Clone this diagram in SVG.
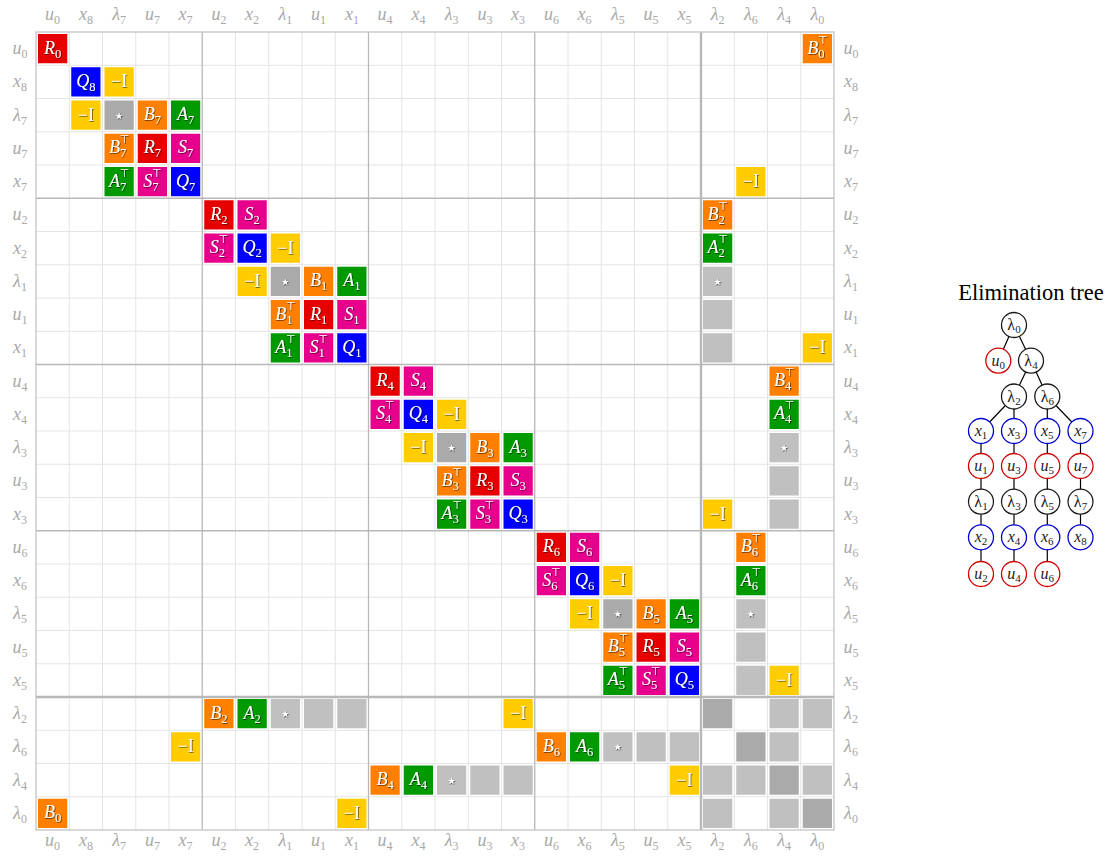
<svg xmlns="http://www.w3.org/2000/svg" width="1107" height="859" viewBox="0 0 1107 859">
<defs>
<filter id="sh" x="-30%" y="-30%" width="160%" height="160%"><feDropShadow dx="0.7" dy="0.7" stdDeviation="0.3" flood-color="#000" flood-opacity="0.75"/></filter>
<style>
.bg{fill:#fff}
.grid{stroke:#e4e4e4;stroke-width:1;fill:none}
.blk{stroke:#b8b8b8;stroke-width:1.3;fill:none}
.blk2{stroke:#b8b8b8;stroke-width:2.4;fill:none}
.bd{stroke:#c4c4c4;stroke-width:1.3;fill:none}
.lab{font-family:"Liberation Serif",serif;font-style:italic;font-size:18px;fill:#a8a8a8;text-anchor:middle}
.ls{font-size:12px;font-style:normal}
rect.c{stroke:none}
.r{fill:#e60000}.q{fill:#0000ff}.y{fill:#ffcc00}.o{fill:#ff8000}.g{fill:#009900}.m{fill:#e6008c}.k{fill:#aaaaaa}.l{fill:#c0c0c0}.d{fill:#aaaaaa}
.t{font-family:"Liberation Serif",serif;font-style:italic;font-size:18px;fill:#fff;text-anchor:middle;filter:url(#sh)}
.n{font-style:normal}
.sb{font-size:12.5px;font-style:normal}
.sp{font-size:11px;font-style:normal;font-family:"DejaVu Sans",sans-serif}
.st{font-family:"DejaVu Sans",sans-serif;font-size:9px;fill:#fff;text-anchor:middle;filter:url(#sh)}
.edge{stroke:#000;stroke-width:1.2}
.nd{fill:#fff;stroke-width:1.3}
.nk{stroke:#1a1a1a}.nr{stroke:#d00000}.nb{stroke:#0000d0}
.tl{font-family:"Liberation Serif",serif;font-size:16px;fill:#1a1a1a;text-anchor:middle}
.it{font-style:italic}
.ts{font-size:11px;font-style:normal}
.title{font-family:"Liberation Serif",serif;font-size:22.5px;fill:#000;text-anchor:middle}
</style>
</defs>
<rect class="bg" x="0" y="0" width="1107" height="859"/>

<g id="grid">
<path class="grid" d="M69.25 32V830M102.5 32V830M135.75 32V830M169 32V830M235.5 32V830M268.75 32V830M302 32V830M335.25 32V830M401.75 32V830M435 32V830M468.25 32V830M501.5 32V830M568 32V830M601.25 32V830M634.5 32V830M667.75 32V830M734.25 32V830M767.5 32V830M800.75 32V830M36 65.25H834M36 98.5H834M36 131.75H834M36 165H834M36 231.5H834M36 264.75H834M36 298H834M36 331.25H834M36 397.75H834M36 431H834M36 464.25H834M36 497.5H834M36 564H834M36 597.25H834M36 630.5H834M36 663.75H834M36 730.25H834M36 763.5H834M36 796.75H834"/>
<path class="blk" d="M202.25 32V830M368.5 32V830M534.75 32V830M36 198.25H834M36 364.5H834M36 530.75H834"/>
<path class="blk2" d="M701 32V830M36 697H834"/>
<rect class="bd" x="36" y="32" width="798" height="798"/>
</g>

<g id="col-labels-top" class="lab">
<text x="52.6" y="20">u<tspan class="ls" dy="4">0</tspan></text>
<text x="85.9" y="20">x<tspan class="ls" dy="4">8</tspan></text>
<text x="119.1" y="20">λ<tspan class="ls" dy="4">7</tspan></text>
<text x="152.4" y="20">u<tspan class="ls" dy="4">7</tspan></text>
<text x="185.6" y="20">x<tspan class="ls" dy="4">7</tspan></text>
<text x="218.9" y="20">u<tspan class="ls" dy="4">2</tspan></text>
<text x="252.1" y="20">x<tspan class="ls" dy="4">2</tspan></text>
<text x="285.4" y="20">λ<tspan class="ls" dy="4">1</tspan></text>
<text x="318.6" y="20">u<tspan class="ls" dy="4">1</tspan></text>
<text x="351.9" y="20">x<tspan class="ls" dy="4">1</tspan></text>
<text x="385.1" y="20">u<tspan class="ls" dy="4">4</tspan></text>
<text x="418.4" y="20">x<tspan class="ls" dy="4">4</tspan></text>
<text x="451.6" y="20">λ<tspan class="ls" dy="4">3</tspan></text>
<text x="484.9" y="20">u<tspan class="ls" dy="4">3</tspan></text>
<text x="518.1" y="20">x<tspan class="ls" dy="4">3</tspan></text>
<text x="551.4" y="20">u<tspan class="ls" dy="4">6</tspan></text>
<text x="584.6" y="20">x<tspan class="ls" dy="4">6</tspan></text>
<text x="617.9" y="20">λ<tspan class="ls" dy="4">5</tspan></text>
<text x="651.1" y="20">u<tspan class="ls" dy="4">5</tspan></text>
<text x="684.4" y="20">x<tspan class="ls" dy="4">5</tspan></text>
<text x="717.6" y="20">λ<tspan class="ls" dy="4">2</tspan></text>
<text x="750.9" y="20">λ<tspan class="ls" dy="4">6</tspan></text>
<text x="784.1" y="20">λ<tspan class="ls" dy="4">4</tspan></text>
<text x="817.4" y="20">λ<tspan class="ls" dy="4">0</tspan></text>
</g>
<g id="col-labels-bottom" class="lab">
<text x="52.6" y="846">u<tspan class="ls" dy="4">0</tspan></text>
<text x="85.9" y="846">x<tspan class="ls" dy="4">8</tspan></text>
<text x="119.1" y="846">λ<tspan class="ls" dy="4">7</tspan></text>
<text x="152.4" y="846">u<tspan class="ls" dy="4">7</tspan></text>
<text x="185.6" y="846">x<tspan class="ls" dy="4">7</tspan></text>
<text x="218.9" y="846">u<tspan class="ls" dy="4">2</tspan></text>
<text x="252.1" y="846">x<tspan class="ls" dy="4">2</tspan></text>
<text x="285.4" y="846">λ<tspan class="ls" dy="4">1</tspan></text>
<text x="318.6" y="846">u<tspan class="ls" dy="4">1</tspan></text>
<text x="351.9" y="846">x<tspan class="ls" dy="4">1</tspan></text>
<text x="385.1" y="846">u<tspan class="ls" dy="4">4</tspan></text>
<text x="418.4" y="846">x<tspan class="ls" dy="4">4</tspan></text>
<text x="451.6" y="846">λ<tspan class="ls" dy="4">3</tspan></text>
<text x="484.9" y="846">u<tspan class="ls" dy="4">3</tspan></text>
<text x="518.1" y="846">x<tspan class="ls" dy="4">3</tspan></text>
<text x="551.4" y="846">u<tspan class="ls" dy="4">6</tspan></text>
<text x="584.6" y="846">x<tspan class="ls" dy="4">6</tspan></text>
<text x="617.9" y="846">λ<tspan class="ls" dy="4">5</tspan></text>
<text x="651.1" y="846">u<tspan class="ls" dy="4">5</tspan></text>
<text x="684.4" y="846">x<tspan class="ls" dy="4">5</tspan></text>
<text x="717.6" y="846">λ<tspan class="ls" dy="4">2</tspan></text>
<text x="750.9" y="846">λ<tspan class="ls" dy="4">6</tspan></text>
<text x="784.1" y="846">λ<tspan class="ls" dy="4">4</tspan></text>
<text x="817.4" y="846">λ<tspan class="ls" dy="4">0</tspan></text>
</g>
<g id="row-labels-left" class="lab">
<text x="20" y="54.1">u<tspan class="ls" dy="4">0</tspan></text>
<text x="20" y="87.4">x<tspan class="ls" dy="4">8</tspan></text>
<text x="20" y="120.6">λ<tspan class="ls" dy="4">7</tspan></text>
<text x="20" y="153.9">u<tspan class="ls" dy="4">7</tspan></text>
<text x="20" y="187.1">x<tspan class="ls" dy="4">7</tspan></text>
<text x="20" y="220.4">u<tspan class="ls" dy="4">2</tspan></text>
<text x="20" y="253.6">x<tspan class="ls" dy="4">2</tspan></text>
<text x="20" y="286.9">λ<tspan class="ls" dy="4">1</tspan></text>
<text x="20" y="320.1">u<tspan class="ls" dy="4">1</tspan></text>
<text x="20" y="353.4">x<tspan class="ls" dy="4">1</tspan></text>
<text x="20" y="386.6">u<tspan class="ls" dy="4">4</tspan></text>
<text x="20" y="419.9">x<tspan class="ls" dy="4">4</tspan></text>
<text x="20" y="453.1">λ<tspan class="ls" dy="4">3</tspan></text>
<text x="20" y="486.4">u<tspan class="ls" dy="4">3</tspan></text>
<text x="20" y="519.6">x<tspan class="ls" dy="4">3</tspan></text>
<text x="20" y="552.9">u<tspan class="ls" dy="4">6</tspan></text>
<text x="20" y="586.1">x<tspan class="ls" dy="4">6</tspan></text>
<text x="20" y="619.4">λ<tspan class="ls" dy="4">5</tspan></text>
<text x="20" y="652.6">u<tspan class="ls" dy="4">5</tspan></text>
<text x="20" y="685.9">x<tspan class="ls" dy="4">5</tspan></text>
<text x="20" y="719.1">λ<tspan class="ls" dy="4">2</tspan></text>
<text x="20" y="752.4">λ<tspan class="ls" dy="4">6</tspan></text>
<text x="20" y="785.6">λ<tspan class="ls" dy="4">4</tspan></text>
<text x="20" y="818.9">λ<tspan class="ls" dy="4">0</tspan></text>
</g>
<g id="row-labels-right" class="lab">
<text x="851" y="54.1">u<tspan class="ls" dy="4">0</tspan></text>
<text x="851" y="87.4">x<tspan class="ls" dy="4">8</tspan></text>
<text x="851" y="120.6">λ<tspan class="ls" dy="4">7</tspan></text>
<text x="851" y="153.9">u<tspan class="ls" dy="4">7</tspan></text>
<text x="851" y="187.1">x<tspan class="ls" dy="4">7</tspan></text>
<text x="851" y="220.4">u<tspan class="ls" dy="4">2</tspan></text>
<text x="851" y="253.6">x<tspan class="ls" dy="4">2</tspan></text>
<text x="851" y="286.9">λ<tspan class="ls" dy="4">1</tspan></text>
<text x="851" y="320.1">u<tspan class="ls" dy="4">1</tspan></text>
<text x="851" y="353.4">x<tspan class="ls" dy="4">1</tspan></text>
<text x="851" y="386.6">u<tspan class="ls" dy="4">4</tspan></text>
<text x="851" y="419.9">x<tspan class="ls" dy="4">4</tspan></text>
<text x="851" y="453.1">λ<tspan class="ls" dy="4">3</tspan></text>
<text x="851" y="486.4">u<tspan class="ls" dy="4">3</tspan></text>
<text x="851" y="519.6">x<tspan class="ls" dy="4">3</tspan></text>
<text x="851" y="552.9">u<tspan class="ls" dy="4">6</tspan></text>
<text x="851" y="586.1">x<tspan class="ls" dy="4">6</tspan></text>
<text x="851" y="619.4">λ<tspan class="ls" dy="4">5</tspan></text>
<text x="851" y="652.6">u<tspan class="ls" dy="4">5</tspan></text>
<text x="851" y="685.9">x<tspan class="ls" dy="4">5</tspan></text>
<text x="851" y="719.1">λ<tspan class="ls" dy="4">2</tspan></text>
<text x="851" y="752.4">λ<tspan class="ls" dy="4">6</tspan></text>
<text x="851" y="785.6">λ<tspan class="ls" dy="4">4</tspan></text>
<text x="851" y="818.9">λ<tspan class="ls" dy="4">0</tspan></text>
</g>

<g id="cells">
<!-- row 0 -->
<g transform="translate(36,32)"><rect class="c r" x="2" y="2" width="29.25" height="29.25"/><text class="t" x="16.6" y="21.5">R<tspan class="sb" dy="4">0</tspan></text></g>
<g transform="translate(800.75,32)"><rect class="c o" x="2" y="2" width="29.25" height="29.25"/><text class="t" x="16.6" y="21.5">B<tspan class="sb" dy="4">0</tspan><tspan class="sp" dx="-6.5" dy="-14">⊤</tspan></text></g>
<!-- row 1 -->
<g transform="translate(69.25,65.25)"><rect class="c q" x="2" y="2" width="29.25" height="29.25"/><text class="t" x="16.6" y="21.5">Q<tspan class="sb" dy="4">8</tspan></text></g>
<g transform="translate(102.5,65.25)"><rect class="c y" x="2" y="2" width="29.25" height="29.25"/><text class="t n" x="16.6" y="22">−I</text></g>
<!-- row 2 -->
<g transform="translate(69.25,98.5)"><rect class="c y" x="2" y="2" width="29.25" height="29.25"/><text class="t n" x="16.6" y="22">−I</text></g>
<g transform="translate(102.5,98.5)"><rect class="c k" x="2" y="2" width="29.25" height="29.25"/><text class="st" x="16.6" y="20">★</text></g>
<g transform="translate(135.75,98.5)"><rect class="c o" x="2" y="2" width="29.25" height="29.25"/><text class="t" x="16.6" y="21.5">B<tspan class="sb" dy="4">7</tspan></text></g>
<g transform="translate(169,98.5)"><rect class="c g" x="2" y="2" width="29.25" height="29.25"/><text class="t" x="16.6" y="21.5">A<tspan class="sb" dy="4">7</tspan></text></g>
<!-- row 3 -->
<g transform="translate(102.5,131.75)"><rect class="c o" x="2" y="2" width="29.25" height="29.25"/><text class="t" x="16.6" y="21.5">B<tspan class="sb" dy="4">7</tspan><tspan class="sp" dx="-6.5" dy="-14">⊤</tspan></text></g>
<g transform="translate(135.75,131.75)"><rect class="c r" x="2" y="2" width="29.25" height="29.25"/><text class="t" x="16.6" y="21.5">R<tspan class="sb" dy="4">7</tspan></text></g>
<g transform="translate(169,131.75)"><rect class="c m" x="2" y="2" width="29.25" height="29.25"/><text class="t" x="16.6" y="21.5">S<tspan class="sb" dy="4">7</tspan></text></g>
<!-- row 4 -->
<g transform="translate(102.5,165)"><rect class="c g" x="2" y="2" width="29.25" height="29.25"/><text class="t" x="16.6" y="21.5">A<tspan class="sb" dy="4">7</tspan><tspan class="sp" dx="-6.5" dy="-14">⊤</tspan></text></g>
<g transform="translate(135.75,165)"><rect class="c m" x="2" y="2" width="29.25" height="29.25"/><text class="t" x="16.6" y="21.5">S<tspan class="sb" dy="4">7</tspan><tspan class="sp" dx="-6.5" dy="-14">⊤</tspan></text></g>
<g transform="translate(169,165)"><rect class="c q" x="2" y="2" width="29.25" height="29.25"/><text class="t" x="16.6" y="21.5">Q<tspan class="sb" dy="4">7</tspan></text></g>
<g transform="translate(734.25,165)"><rect class="c y" x="2" y="2" width="29.25" height="29.25"/><text class="t n" x="16.6" y="22">−I</text></g>
<!-- row 5 -->
<g transform="translate(202.25,198.25)"><rect class="c r" x="2" y="2" width="29.25" height="29.25"/><text class="t" x="16.6" y="21.5">R<tspan class="sb" dy="4">2</tspan></text></g>
<g transform="translate(235.5,198.25)"><rect class="c m" x="2" y="2" width="29.25" height="29.25"/><text class="t" x="16.6" y="21.5">S<tspan class="sb" dy="4">2</tspan></text></g>
<g transform="translate(701,198.25)"><rect class="c o" x="2" y="2" width="29.25" height="29.25"/><text class="t" x="16.6" y="21.5">B<tspan class="sb" dy="4">2</tspan><tspan class="sp" dx="-6.5" dy="-14">⊤</tspan></text></g>
<!-- row 6 -->
<g transform="translate(202.25,231.5)"><rect class="c m" x="2" y="2" width="29.25" height="29.25"/><text class="t" x="16.6" y="21.5">S<tspan class="sb" dy="4">2</tspan><tspan class="sp" dx="-6.5" dy="-14">⊤</tspan></text></g>
<g transform="translate(235.5,231.5)"><rect class="c q" x="2" y="2" width="29.25" height="29.25"/><text class="t" x="16.6" y="21.5">Q<tspan class="sb" dy="4">2</tspan></text></g>
<g transform="translate(268.75,231.5)"><rect class="c y" x="2" y="2" width="29.25" height="29.25"/><text class="t n" x="16.6" y="22">−I</text></g>
<g transform="translate(701,231.5)"><rect class="c g" x="2" y="2" width="29.25" height="29.25"/><text class="t" x="16.6" y="21.5">A<tspan class="sb" dy="4">2</tspan><tspan class="sp" dx="-6.5" dy="-14">⊤</tspan></text></g>
<!-- row 7 -->
<g transform="translate(235.5,264.75)"><rect class="c y" x="2" y="2" width="29.25" height="29.25"/><text class="t n" x="16.6" y="22">−I</text></g>
<g transform="translate(268.75,264.75)"><rect class="c k" x="2" y="2" width="29.25" height="29.25"/><text class="st" x="16.6" y="20">★</text></g>
<g transform="translate(302,264.75)"><rect class="c o" x="2" y="2" width="29.25" height="29.25"/><text class="t" x="16.6" y="21.5">B<tspan class="sb" dy="4">1</tspan></text></g>
<g transform="translate(335.25,264.75)"><rect class="c g" x="2" y="2" width="29.25" height="29.25"/><text class="t" x="16.6" y="21.5">A<tspan class="sb" dy="4">1</tspan></text></g>
<g transform="translate(701,264.75)"><rect class="c l" x="2" y="2" width="29.25" height="29.25"/><text class="st" x="16.6" y="20">★</text></g>
<!-- row 8 -->
<g transform="translate(268.75,298)"><rect class="c o" x="2" y="2" width="29.25" height="29.25"/><text class="t" x="16.6" y="21.5">B<tspan class="sb" dy="4">1</tspan><tspan class="sp" dx="-6.5" dy="-14">⊤</tspan></text></g>
<g transform="translate(302,298)"><rect class="c r" x="2" y="2" width="29.25" height="29.25"/><text class="t" x="16.6" y="21.5">R<tspan class="sb" dy="4">1</tspan></text></g>
<g transform="translate(335.25,298)"><rect class="c m" x="2" y="2" width="29.25" height="29.25"/><text class="t" x="16.6" y="21.5">S<tspan class="sb" dy="4">1</tspan></text></g>
<g transform="translate(701,298)"><rect class="c l" x="2" y="2" width="29.25" height="29.25"/></g>
<!-- row 9 -->
<g transform="translate(268.75,331.25)"><rect class="c g" x="2" y="2" width="29.25" height="29.25"/><text class="t" x="16.6" y="21.5">A<tspan class="sb" dy="4">1</tspan><tspan class="sp" dx="-6.5" dy="-14">⊤</tspan></text></g>
<g transform="translate(302,331.25)"><rect class="c m" x="2" y="2" width="29.25" height="29.25"/><text class="t" x="16.6" y="21.5">S<tspan class="sb" dy="4">1</tspan><tspan class="sp" dx="-6.5" dy="-14">⊤</tspan></text></g>
<g transform="translate(335.25,331.25)"><rect class="c q" x="2" y="2" width="29.25" height="29.25"/><text class="t" x="16.6" y="21.5">Q<tspan class="sb" dy="4">1</tspan></text></g>
<g transform="translate(701,331.25)"><rect class="c l" x="2" y="2" width="29.25" height="29.25"/></g>
<g transform="translate(800.75,331.25)"><rect class="c y" x="2" y="2" width="29.25" height="29.25"/><text class="t n" x="16.6" y="22">−I</text></g>
<!-- row 10 -->
<g transform="translate(368.5,364.5)"><rect class="c r" x="2" y="2" width="29.25" height="29.25"/><text class="t" x="16.6" y="21.5">R<tspan class="sb" dy="4">4</tspan></text></g>
<g transform="translate(401.75,364.5)"><rect class="c m" x="2" y="2" width="29.25" height="29.25"/><text class="t" x="16.6" y="21.5">S<tspan class="sb" dy="4">4</tspan></text></g>
<g transform="translate(767.5,364.5)"><rect class="c o" x="2" y="2" width="29.25" height="29.25"/><text class="t" x="16.6" y="21.5">B<tspan class="sb" dy="4">4</tspan><tspan class="sp" dx="-6.5" dy="-14">⊤</tspan></text></g>
<!-- row 11 -->
<g transform="translate(368.5,397.75)"><rect class="c m" x="2" y="2" width="29.25" height="29.25"/><text class="t" x="16.6" y="21.5">S<tspan class="sb" dy="4">4</tspan><tspan class="sp" dx="-6.5" dy="-14">⊤</tspan></text></g>
<g transform="translate(401.75,397.75)"><rect class="c q" x="2" y="2" width="29.25" height="29.25"/><text class="t" x="16.6" y="21.5">Q<tspan class="sb" dy="4">4</tspan></text></g>
<g transform="translate(435,397.75)"><rect class="c y" x="2" y="2" width="29.25" height="29.25"/><text class="t n" x="16.6" y="22">−I</text></g>
<g transform="translate(767.5,397.75)"><rect class="c g" x="2" y="2" width="29.25" height="29.25"/><text class="t" x="16.6" y="21.5">A<tspan class="sb" dy="4">4</tspan><tspan class="sp" dx="-6.5" dy="-14">⊤</tspan></text></g>
<!-- row 12 -->
<g transform="translate(401.75,431)"><rect class="c y" x="2" y="2" width="29.25" height="29.25"/><text class="t n" x="16.6" y="22">−I</text></g>
<g transform="translate(435,431)"><rect class="c k" x="2" y="2" width="29.25" height="29.25"/><text class="st" x="16.6" y="20">★</text></g>
<g transform="translate(468.25,431)"><rect class="c o" x="2" y="2" width="29.25" height="29.25"/><text class="t" x="16.6" y="21.5">B<tspan class="sb" dy="4">3</tspan></text></g>
<g transform="translate(501.5,431)"><rect class="c g" x="2" y="2" width="29.25" height="29.25"/><text class="t" x="16.6" y="21.5">A<tspan class="sb" dy="4">3</tspan></text></g>
<g transform="translate(767.5,431)"><rect class="c l" x="2" y="2" width="29.25" height="29.25"/><text class="st" x="16.6" y="20">★</text></g>
<!-- row 13 -->
<g transform="translate(435,464.25)"><rect class="c o" x="2" y="2" width="29.25" height="29.25"/><text class="t" x="16.6" y="21.5">B<tspan class="sb" dy="4">3</tspan><tspan class="sp" dx="-6.5" dy="-14">⊤</tspan></text></g>
<g transform="translate(468.25,464.25)"><rect class="c r" x="2" y="2" width="29.25" height="29.25"/><text class="t" x="16.6" y="21.5">R<tspan class="sb" dy="4">3</tspan></text></g>
<g transform="translate(501.5,464.25)"><rect class="c m" x="2" y="2" width="29.25" height="29.25"/><text class="t" x="16.6" y="21.5">S<tspan class="sb" dy="4">3</tspan></text></g>
<g transform="translate(767.5,464.25)"><rect class="c l" x="2" y="2" width="29.25" height="29.25"/></g>
<!-- row 14 -->
<g transform="translate(435,497.5)"><rect class="c g" x="2" y="2" width="29.25" height="29.25"/><text class="t" x="16.6" y="21.5">A<tspan class="sb" dy="4">3</tspan><tspan class="sp" dx="-6.5" dy="-14">⊤</tspan></text></g>
<g transform="translate(468.25,497.5)"><rect class="c m" x="2" y="2" width="29.25" height="29.25"/><text class="t" x="16.6" y="21.5">S<tspan class="sb" dy="4">3</tspan><tspan class="sp" dx="-6.5" dy="-14">⊤</tspan></text></g>
<g transform="translate(501.5,497.5)"><rect class="c q" x="2" y="2" width="29.25" height="29.25"/><text class="t" x="16.6" y="21.5">Q<tspan class="sb" dy="4">3</tspan></text></g>
<g transform="translate(701,497.5)"><rect class="c y" x="2" y="2" width="29.25" height="29.25"/><text class="t n" x="16.6" y="22">−I</text></g>
<g transform="translate(767.5,497.5)"><rect class="c l" x="2" y="2" width="29.25" height="29.25"/></g>
<!-- row 15 -->
<g transform="translate(534.75,530.75)"><rect class="c r" x="2" y="2" width="29.25" height="29.25"/><text class="t" x="16.6" y="21.5">R<tspan class="sb" dy="4">6</tspan></text></g>
<g transform="translate(568,530.75)"><rect class="c m" x="2" y="2" width="29.25" height="29.25"/><text class="t" x="16.6" y="21.5">S<tspan class="sb" dy="4">6</tspan></text></g>
<g transform="translate(734.25,530.75)"><rect class="c o" x="2" y="2" width="29.25" height="29.25"/><text class="t" x="16.6" y="21.5">B<tspan class="sb" dy="4">6</tspan><tspan class="sp" dx="-6.5" dy="-14">⊤</tspan></text></g>
<!-- row 16 -->
<g transform="translate(534.75,564)"><rect class="c m" x="2" y="2" width="29.25" height="29.25"/><text class="t" x="16.6" y="21.5">S<tspan class="sb" dy="4">6</tspan><tspan class="sp" dx="-6.5" dy="-14">⊤</tspan></text></g>
<g transform="translate(568,564)"><rect class="c q" x="2" y="2" width="29.25" height="29.25"/><text class="t" x="16.6" y="21.5">Q<tspan class="sb" dy="4">6</tspan></text></g>
<g transform="translate(601.25,564)"><rect class="c y" x="2" y="2" width="29.25" height="29.25"/><text class="t n" x="16.6" y="22">−I</text></g>
<g transform="translate(734.25,564)"><rect class="c g" x="2" y="2" width="29.25" height="29.25"/><text class="t" x="16.6" y="21.5">A<tspan class="sb" dy="4">6</tspan><tspan class="sp" dx="-6.5" dy="-14">⊤</tspan></text></g>
<!-- row 17 -->
<g transform="translate(568,597.25)"><rect class="c y" x="2" y="2" width="29.25" height="29.25"/><text class="t n" x="16.6" y="22">−I</text></g>
<g transform="translate(601.25,597.25)"><rect class="c k" x="2" y="2" width="29.25" height="29.25"/><text class="st" x="16.6" y="20">★</text></g>
<g transform="translate(634.5,597.25)"><rect class="c o" x="2" y="2" width="29.25" height="29.25"/><text class="t" x="16.6" y="21.5">B<tspan class="sb" dy="4">5</tspan></text></g>
<g transform="translate(667.75,597.25)"><rect class="c g" x="2" y="2" width="29.25" height="29.25"/><text class="t" x="16.6" y="21.5">A<tspan class="sb" dy="4">5</tspan></text></g>
<g transform="translate(734.25,597.25)"><rect class="c l" x="2" y="2" width="29.25" height="29.25"/><text class="st" x="16.6" y="20">★</text></g>
<!-- row 18 -->
<g transform="translate(601.25,630.5)"><rect class="c o" x="2" y="2" width="29.25" height="29.25"/><text class="t" x="16.6" y="21.5">B<tspan class="sb" dy="4">5</tspan><tspan class="sp" dx="-6.5" dy="-14">⊤</tspan></text></g>
<g transform="translate(634.5,630.5)"><rect class="c r" x="2" y="2" width="29.25" height="29.25"/><text class="t" x="16.6" y="21.5">R<tspan class="sb" dy="4">5</tspan></text></g>
<g transform="translate(667.75,630.5)"><rect class="c m" x="2" y="2" width="29.25" height="29.25"/><text class="t" x="16.6" y="21.5">S<tspan class="sb" dy="4">5</tspan></text></g>
<g transform="translate(734.25,630.5)"><rect class="c l" x="2" y="2" width="29.25" height="29.25"/></g>
<!-- row 19 -->
<g transform="translate(601.25,663.75)"><rect class="c g" x="2" y="2" width="29.25" height="29.25"/><text class="t" x="16.6" y="21.5">A<tspan class="sb" dy="4">5</tspan><tspan class="sp" dx="-6.5" dy="-14">⊤</tspan></text></g>
<g transform="translate(634.5,663.75)"><rect class="c m" x="2" y="2" width="29.25" height="29.25"/><text class="t" x="16.6" y="21.5">S<tspan class="sb" dy="4">5</tspan><tspan class="sp" dx="-6.5" dy="-14">⊤</tspan></text></g>
<g transform="translate(667.75,663.75)"><rect class="c q" x="2" y="2" width="29.25" height="29.25"/><text class="t" x="16.6" y="21.5">Q<tspan class="sb" dy="4">5</tspan></text></g>
<g transform="translate(734.25,663.75)"><rect class="c l" x="2" y="2" width="29.25" height="29.25"/></g>
<g transform="translate(767.5,663.75)"><rect class="c y" x="2" y="2" width="29.25" height="29.25"/><text class="t n" x="16.6" y="22">−I</text></g>
<!-- row 20 -->
<g transform="translate(202.25,697)"><rect class="c o" x="2" y="2" width="29.25" height="29.25"/><text class="t" x="16.6" y="21.5">B<tspan class="sb" dy="4">2</tspan></text></g>
<g transform="translate(235.5,697)"><rect class="c g" x="2" y="2" width="29.25" height="29.25"/><text class="t" x="16.6" y="21.5">A<tspan class="sb" dy="4">2</tspan></text></g>
<g transform="translate(268.75,697)"><rect class="c l" x="2" y="2" width="29.25" height="29.25"/><text class="st" x="16.6" y="20">★</text></g>
<g transform="translate(302,697)"><rect class="c l" x="2" y="2" width="29.25" height="29.25"/></g>
<g transform="translate(335.25,697)"><rect class="c l" x="2" y="2" width="29.25" height="29.25"/></g>
<g transform="translate(501.5,697)"><rect class="c y" x="2" y="2" width="29.25" height="29.25"/><text class="t n" x="16.6" y="22">−I</text></g>
<g transform="translate(701,697)"><rect class="c d" x="2" y="2" width="29.25" height="29.25"/></g>
<g transform="translate(767.5,697)"><rect class="c l" x="2" y="2" width="29.25" height="29.25"/></g>
<g transform="translate(800.75,697)"><rect class="c l" x="2" y="2" width="29.25" height="29.25"/></g>
<!-- row 21 -->
<g transform="translate(169,730.25)"><rect class="c y" x="2" y="2" width="29.25" height="29.25"/><text class="t n" x="16.6" y="22">−I</text></g>
<g transform="translate(534.75,730.25)"><rect class="c o" x="2" y="2" width="29.25" height="29.25"/><text class="t" x="16.6" y="21.5">B<tspan class="sb" dy="4">6</tspan></text></g>
<g transform="translate(568,730.25)"><rect class="c g" x="2" y="2" width="29.25" height="29.25"/><text class="t" x="16.6" y="21.5">A<tspan class="sb" dy="4">6</tspan></text></g>
<g transform="translate(601.25,730.25)"><rect class="c l" x="2" y="2" width="29.25" height="29.25"/><text class="st" x="16.6" y="20">★</text></g>
<g transform="translate(634.5,730.25)"><rect class="c l" x="2" y="2" width="29.25" height="29.25"/></g>
<g transform="translate(667.75,730.25)"><rect class="c l" x="2" y="2" width="29.25" height="29.25"/></g>
<g transform="translate(734.25,730.25)"><rect class="c d" x="2" y="2" width="29.25" height="29.25"/></g>
<g transform="translate(767.5,730.25)"><rect class="c l" x="2" y="2" width="29.25" height="29.25"/></g>
<!-- row 22 -->
<g transform="translate(368.5,763.5)"><rect class="c o" x="2" y="2" width="29.25" height="29.25"/><text class="t" x="16.6" y="21.5">B<tspan class="sb" dy="4">4</tspan></text></g>
<g transform="translate(401.75,763.5)"><rect class="c g" x="2" y="2" width="29.25" height="29.25"/><text class="t" x="16.6" y="21.5">A<tspan class="sb" dy="4">4</tspan></text></g>
<g transform="translate(435,763.5)"><rect class="c l" x="2" y="2" width="29.25" height="29.25"/><text class="st" x="16.6" y="20">★</text></g>
<g transform="translate(468.25,763.5)"><rect class="c l" x="2" y="2" width="29.25" height="29.25"/></g>
<g transform="translate(501.5,763.5)"><rect class="c l" x="2" y="2" width="29.25" height="29.25"/></g>
<g transform="translate(667.75,763.5)"><rect class="c y" x="2" y="2" width="29.25" height="29.25"/><text class="t n" x="16.6" y="22">−I</text></g>
<g transform="translate(701,763.5)"><rect class="c l" x="2" y="2" width="29.25" height="29.25"/></g>
<g transform="translate(734.25,763.5)"><rect class="c l" x="2" y="2" width="29.25" height="29.25"/></g>
<g transform="translate(767.5,763.5)"><rect class="c d" x="2" y="2" width="29.25" height="29.25"/></g>
<g transform="translate(800.75,763.5)"><rect class="c l" x="2" y="2" width="29.25" height="29.25"/></g>
<!-- row 23 -->
<g transform="translate(36,796.75)"><rect class="c o" x="2" y="2" width="29.25" height="29.25"/><text class="t" x="16.6" y="21.5">B<tspan class="sb" dy="4">0</tspan></text></g>
<g transform="translate(335.25,796.75)"><rect class="c y" x="2" y="2" width="29.25" height="29.25"/><text class="t n" x="16.6" y="22">−I</text></g>
<g transform="translate(701,796.75)"><rect class="c l" x="2" y="2" width="29.25" height="29.25"/></g>
<g transform="translate(767.5,796.75)"><rect class="c l" x="2" y="2" width="29.25" height="29.25"/></g>
<g transform="translate(800.75,796.75)"><rect class="c d" x="2" y="2" width="29.25" height="29.25"/></g>
</g>

<text class="title" x="1031" y="300">Elimination tree</text>

<g id="connectors">
<line class="edge" x1="1014" y1="325" x2="998.3" y2="360.7"/>
<line class="edge" x1="1014" y1="325" x2="1031" y2="360.7"/>
<line class="edge" x1="1031" y1="360.7" x2="1014" y2="396.5"/>
<line class="edge" x1="1031" y1="360.7" x2="1047.3" y2="396.5"/>
<line class="edge" x1="1014" y1="396.5" x2="981" y2="431"/>
<line class="edge" x1="1014" y1="396.5" x2="1014" y2="431"/>
<line class="edge" x1="1047.3" y1="396.5" x2="1047.3" y2="431"/>
<line class="edge" x1="1047.3" y1="396.5" x2="1080.5" y2="431"/>
<line class="edge" x1="981" y1="431" x2="981" y2="466"/>
<line class="edge" x1="981" y1="466" x2="981" y2="501.7"/>
<line class="edge" x1="981" y1="501.7" x2="981" y2="537.3"/>
<line class="edge" x1="981" y1="537.3" x2="981" y2="574"/>
<line class="edge" x1="1014" y1="431" x2="1014" y2="466"/>
<line class="edge" x1="1014" y1="466" x2="1014" y2="501.7"/>
<line class="edge" x1="1014" y1="501.7" x2="1014" y2="537.3"/>
<line class="edge" x1="1014" y1="537.3" x2="1014" y2="574"/>
<line class="edge" x1="1047.3" y1="431" x2="1047.3" y2="466"/>
<line class="edge" x1="1047.3" y1="466" x2="1047.3" y2="501.7"/>
<line class="edge" x1="1047.3" y1="501.7" x2="1047.3" y2="537.3"/>
<line class="edge" x1="1047.3" y1="537.3" x2="1047.3" y2="574"/>
<line class="edge" x1="1080.5" y1="431" x2="1080.5" y2="466"/>
<line class="edge" x1="1080.5" y1="466" x2="1080.5" y2="501.7"/>
<line class="edge" x1="1080.5" y1="501.7" x2="1080.5" y2="537.3"/>
</g>

<g id="tree-nodes">
<g id="t-l0"><circle class="nd nk" cx="1014" cy="325" r="12.5"/><text class="tl" x="1014" y="330">λ<tspan class="ts" dy="3">0</tspan></text></g>
<g id="t-u0"><circle class="nd nr" cx="998.3" cy="360.7" r="12.5"/><text class="tl" x="998.3" y="365.7"><tspan class="it">u</tspan><tspan class="ts" dy="3">0</tspan></text></g>
<g id="t-l4"><circle class="nd nk" cx="1031" cy="360.7" r="12.5"/><text class="tl" x="1031" y="365.7">λ<tspan class="ts" dy="3">4</tspan></text></g>
<g id="t-l2"><circle class="nd nk" cx="1014" cy="396.5" r="12.5"/><text class="tl" x="1014" y="401.5">λ<tspan class="ts" dy="3">2</tspan></text></g>
<g id="t-l6"><circle class="nd nk" cx="1047.3" cy="396.5" r="12.5"/><text class="tl" x="1047.3" y="401.5">λ<tspan class="ts" dy="3">6</tspan></text></g>
<g id="t-x1"><circle class="nd nb" cx="981" cy="431" r="12.5"/><text class="tl" x="981" y="436"><tspan class="it">x</tspan><tspan class="ts" dy="3">1</tspan></text></g>
<g id="t-x3"><circle class="nd nb" cx="1014" cy="431" r="12.5"/><text class="tl" x="1014" y="436"><tspan class="it">x</tspan><tspan class="ts" dy="3">3</tspan></text></g>
<g id="t-x5"><circle class="nd nb" cx="1047.3" cy="431" r="12.5"/><text class="tl" x="1047.3" y="436"><tspan class="it">x</tspan><tspan class="ts" dy="3">5</tspan></text></g>
<g id="t-x7"><circle class="nd nb" cx="1080.5" cy="431" r="12.5"/><text class="tl" x="1080.5" y="436"><tspan class="it">x</tspan><tspan class="ts" dy="3">7</tspan></text></g>
<g id="t-u1"><circle class="nd nr" cx="981" cy="466" r="12.5"/><text class="tl" x="981" y="471"><tspan class="it">u</tspan><tspan class="ts" dy="3">1</tspan></text></g>
<g id="t-u3"><circle class="nd nr" cx="1014" cy="466" r="12.5"/><text class="tl" x="1014" y="471"><tspan class="it">u</tspan><tspan class="ts" dy="3">3</tspan></text></g>
<g id="t-u5"><circle class="nd nr" cx="1047.3" cy="466" r="12.5"/><text class="tl" x="1047.3" y="471"><tspan class="it">u</tspan><tspan class="ts" dy="3">5</tspan></text></g>
<g id="t-u7"><circle class="nd nr" cx="1080.5" cy="466" r="12.5"/><text class="tl" x="1080.5" y="471"><tspan class="it">u</tspan><tspan class="ts" dy="3">7</tspan></text></g>
<g id="t-l1"><circle class="nd nk" cx="981" cy="501.7" r="12.5"/><text class="tl" x="981" y="506.7">λ<tspan class="ts" dy="3">1</tspan></text></g>
<g id="t-l3"><circle class="nd nk" cx="1014" cy="501.7" r="12.5"/><text class="tl" x="1014" y="506.7">λ<tspan class="ts" dy="3">3</tspan></text></g>
<g id="t-l5"><circle class="nd nk" cx="1047.3" cy="501.7" r="12.5"/><text class="tl" x="1047.3" y="506.7">λ<tspan class="ts" dy="3">5</tspan></text></g>
<g id="t-l7"><circle class="nd nk" cx="1080.5" cy="501.7" r="12.5"/><text class="tl" x="1080.5" y="506.7">λ<tspan class="ts" dy="3">7</tspan></text></g>
<g id="t-x2"><circle class="nd nb" cx="981" cy="537.3" r="12.5"/><text class="tl" x="981" y="542.3"><tspan class="it">x</tspan><tspan class="ts" dy="3">2</tspan></text></g>
<g id="t-x4"><circle class="nd nb" cx="1014" cy="537.3" r="12.5"/><text class="tl" x="1014" y="542.3"><tspan class="it">x</tspan><tspan class="ts" dy="3">4</tspan></text></g>
<g id="t-x6"><circle class="nd nb" cx="1047.3" cy="537.3" r="12.5"/><text class="tl" x="1047.3" y="542.3"><tspan class="it">x</tspan><tspan class="ts" dy="3">6</tspan></text></g>
<g id="t-x8"><circle class="nd nb" cx="1080.5" cy="537.3" r="12.5"/><text class="tl" x="1080.5" y="542.3"><tspan class="it">x</tspan><tspan class="ts" dy="3">8</tspan></text></g>
<g id="t-u2"><circle class="nd nr" cx="981" cy="574" r="12.5"/><text class="tl" x="981" y="579"><tspan class="it">u</tspan><tspan class="ts" dy="3">2</tspan></text></g>
<g id="t-u4"><circle class="nd nr" cx="1014" cy="574" r="12.5"/><text class="tl" x="1014" y="579"><tspan class="it">u</tspan><tspan class="ts" dy="3">4</tspan></text></g>
<g id="t-u6"><circle class="nd nr" cx="1047.3" cy="574" r="12.5"/><text class="tl" x="1047.3" y="579"><tspan class="it">u</tspan><tspan class="ts" dy="3">6</tspan></text></g>
</g>
</svg>
